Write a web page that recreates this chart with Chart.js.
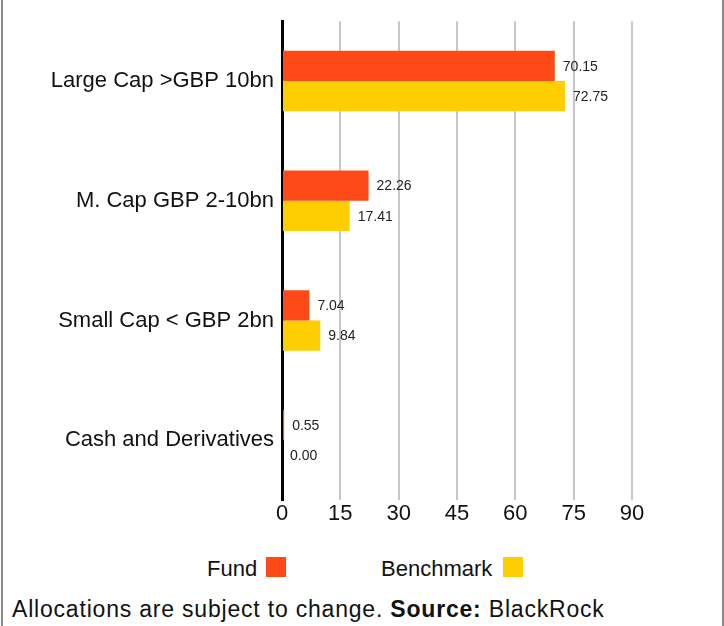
<!DOCTYPE html>
<html>
<head>
<meta charset="utf-8">
<script src="https://cdn.jsdelivr.net/npm/chart.js@4/dist/chart.umd.min.js"></script>
<style>
  html, body { margin: 0; padding: 0; background: #fff; }
  body { width: 724px; height: 626px; position: relative; overflow: hidden;
         font-family: "Liberation Sans", Arial, sans-serif; color: #111; }
  .edge { position: absolute; top: 0; width: 2px; height: 626px; background: #8a8a8a; }
  #wrap { position: absolute; left: 0; top: 0; width: 724px; height: 540px; }
  .leg { position: absolute; font-size: 22px; line-height: 22px; top: 558px; white-space: nowrap; }
  .box { position: absolute; width: 20px; height: 20px; top: 557px; }
  #note { position: absolute; left: 12px; top: 598px; font-size: 23px; line-height: 23px;
          letter-spacing: 0.8px; white-space: nowrap; }
</style>
</head>
<body>
<div class="edge" style="left:1px"></div>
<div class="edge" style="left:722px"></div>
<div id="wrap"><canvas id="c"></canvas></div>
<div class="leg" style="left:207px">Fund</div>
<div class="box" id="boxFund" style="left:266px"></div>
<div class="leg" style="left:381px">Benchmark</div>
<div class="box" id="boxBench" style="left:503px"></div>
<div id="note">Allocations are subject to change. <b>Source:</b> BlackRock</div>
<script>
// Market-cap allocation, fund vs benchmark (%)
const categories = ["Large Cap >GBP 10bn", "M. Cap GBP 2-10bn", "Small Cap < GBP 2bn", "Cash and Derivatives"];
const fundValues = [70.15, 22.26, 7.04, 0.55];
const benchmarkValues = [72.75, 17.41, 9.84, 0.00];
const axisTicks = [0, 15, 30, 45, 60, 75, 90];

const FUND_COLOR = "#ff4a17";
const BENCH_COLOR = "#ffce00";
document.getElementById("boxFund").style.background = FUND_COLOR;
document.getElementById("boxBench").style.background = BENCH_COLOR;

Chart.defaults.font.family = '"Liberation Sans", Arial, sans-serif';
Chart.defaults.color = "#111";

// Writes each bar's value just past its end
const valueLabels = {
  id: "valueLabels",
  afterDatasetsDraw(chart) {
    const ctx = chart.ctx;
    ctx.save();
    ctx.font = '14px "Liberation Sans", Arial, sans-serif';
    ctx.fillStyle = "#222";
    ctx.textAlign = "left";
    ctx.textBaseline = "middle";
    chart.data.datasets.forEach((ds, i) => {
      chart.getDatasetMeta(i).data.forEach((bar, j) => {
        ctx.fillText(ds.data[j].toFixed(2), bar.x + 8, bar.y + 1);
      });
    });
    ctx.restore();
  }
};

new Chart(document.getElementById("c"), {
  type: "bar",
  data: {
    labels: categories,
    datasets: [
      { label: "Fund", data: fundValues, backgroundColor: FUND_COLOR },
      { label: "Benchmark", data: benchmarkValues, backgroundColor: BENCH_COLOR }
    ]
  },
  options: {
    indexAxis: "y",
    responsive: true,
    maintainAspectRatio: false,
    animation: false,
    datasets: { bar: { barPercentage: 1, categoryPercentage: 0.505 } },
    layout: { padding: { top: 16, right: 92, left: 0, bottom: 0 } },
    plugins: { legend: { display: false }, tooltip: { enabled: false } },
    scales: {
      x: {
        min: 0, max: 90,
        afterBuildTicks(scale) { scale.ticks = axisTicks.map(v => ({ value: v })); },
        afterFit(scale) { scale.height = 40; },
        ticks: { font: { size: 22 }, color: "#111", padding: 1 },
        grid: { color: "#c8c8c8", lineWidth: 2, drawTicks: false },
        border: { display: false }
      },
      y: {
        afterFit(scale) { scale.width = 282; },
        ticks: { font: { size: 22 }, color: "#111", padding: 8 },
        grid: { display: false, drawTicks: false },
        border: { display: true, color: "#000", width: 3 }
      }
    }
  },
  plugins: [valueLabels]
});
</script>
</body>
</html>
